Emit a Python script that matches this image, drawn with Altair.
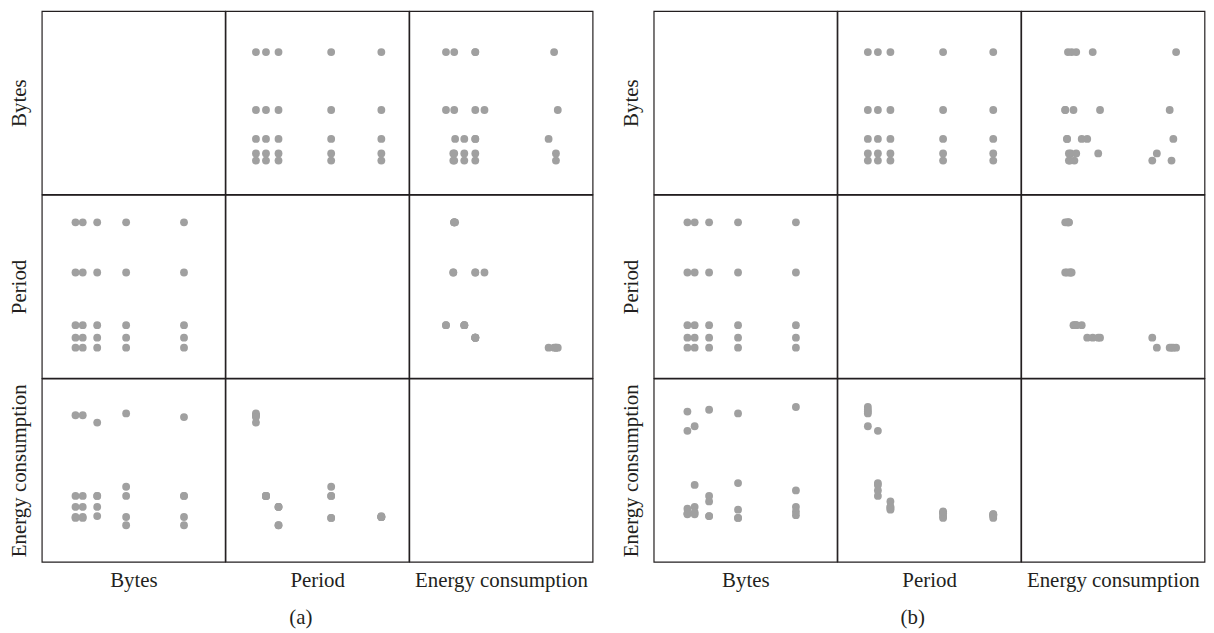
import altair as alt
import pandas as pd

# ---- data ----
BYTES = [16, 32, 64, 128, 256]
PERIODS = [1, 2, 3.25, 8.5, 13.5]

# energy consumption per period (rows) and bytes (columns), panel (a)
ENERGY_A = [
    [80, 80, 76, 81, 79],      # period 1
    [36, 36, 36, 36, 36],      # period 2
    [30, 30, 30, 20, 20],      # period 3.25
    [24, 24, 36, 41, 36],      # period 8.5
    [24.5, 24.5, 25, 24.5, 24.5],  # period 13.5
]
# panel (b)
ENERGY_B = [
    [82, 74, 83, 81, 84.5],
    [71.5, 42, 36, 43, 39],
    [29, 30, 33, 28.5, 30],
    [26.5, 27, 25, 24, 27.5],
    [26, 26, 25, 24, 25.5],
]

BYTES_DOMAIN = [-58.6, 346.8]
PERIOD_DOMAIN = [-2.03, 16.24]
ENERGY_DOMAIN = [0, 100]

FONT = "Liberation Serif"
TEXT = "#231f20"
DOT = "#a0a0a0"
W = 184.5


def frame(energy):
    rows = []
    for pi, p in enumerate(PERIODS):
        for bi, b in enumerate(BYTES):
            rows.append({"Bytes": b, "Period": p, "Energy": energy[pi][bi]})
    return pd.DataFrame(rows)


VARS = [
    ("Bytes", "Bytes", BYTES_DOMAIN),
    ("Period", "Period", PERIOD_DOMAIN),
    ("Energy", "Energy consumption", ENERGY_DOMAIN),
]


def cell(data, r, c):
    yf, ytitle, ydom = VARS[r]
    xf, xtitle, xdom = VARS[c]
    if r == 2:
        xaxis = alt.Axis(title=xtitle, labels=False, ticks=False, domain=False,
                         grid=False, titlePadding=8, minExtent=0, maxExtent=0)
    else:
        xaxis = None
    if c == 0:
        yaxis = alt.Axis(title=ytitle, labels=False, ticks=False, domain=False,
                         grid=False, titlePadding=12, minExtent=0, maxExtent=0)
    else:
        yaxis = None
    return (
        alt.Chart(data)
        .mark_circle(size=62, color=DOT, opacity=0 if r == c else 1)
        .encode(
            x=alt.X(f"{xf}:Q", scale=alt.Scale(domain=xdom, nice=False, zero=False), axis=xaxis),
            y=alt.Y(f"{yf}:Q", scale=alt.Scale(domain=ydom, nice=False, zero=False), axis=yaxis),
        )
        .properties(width=W, height=W)
    )


def panel(energy, label):
    data = frame(energy)
    cells = [cell(data, r, c) for r in range(3) for c in range(3)]
    return alt.concat(
        *cells,
        columns=3,
        spacing=0,
        align="each",
        bounds="flush",
        title=alt.TitleParams(label, orient="bottom", anchor="middle", font=FONT,
                              fontSize=21, fontWeight="normal", color=TEXT, offset=16),
    )


chart = (
    alt.hconcat(panel(ENERGY_A, "(a)"), panel(ENERGY_B, "(b)"), spacing=26)
    .properties(padding=0)
    .configure_view(stroke=TEXT, strokeWidth=1.2)
    .configure_axis(titleFont=FONT, titleFontSize=21, titleFontWeight="normal", titleColor=TEXT)
)

chart.save("out.html", embed_options={"renderer": "svg", "actions": False})
